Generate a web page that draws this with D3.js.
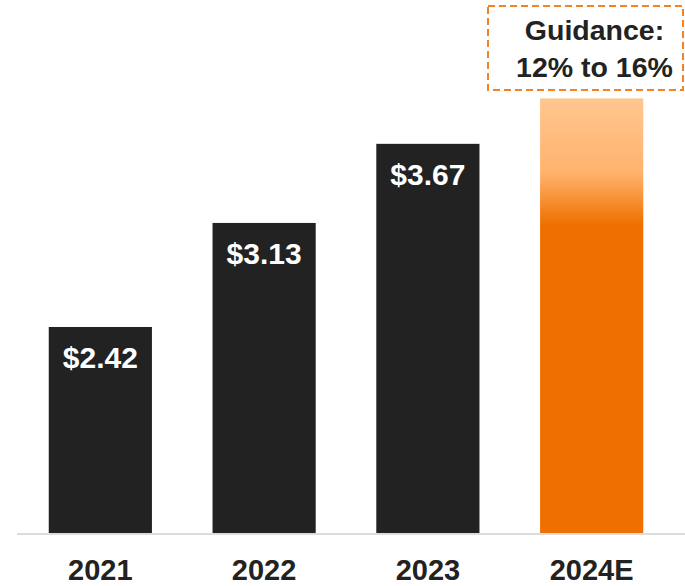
<!DOCTYPE html>
<html>
<head>
<meta charset="utf-8">
<script src="https://cdn.jsdelivr.net/npm/d3@7"></script>
<style>
  html, body { margin: 0; padding: 0; background: #fff; }
  svg { display: block; font-family: "Liberation Sans", Arial, sans-serif; }
</style>
</head>
<body>
<svg id="chart" width="685" height="586"></svg>
<script>
const categories = ["2021", "2022", "2023", "2024E"];
const values = [2.42, 3.13, 3.67, 3.98];   // 2024E bar height
const valueLabels = ["$2.42", "$3.13", "$3.67", null];
const guidanceLines = ["Guidance:", "12% to 16%"];

const svg = d3.select("#chart");
const W = 685, H = 586;
const baseY = 533;

const x = d3.scaleBand().domain(categories).range([16, 676]).paddingInner(0.37).paddingOuter(0.2);
const y = d3.scaleLinear().domain([1.014, 3.976]).range([baseY, 99]);

const defs = svg.append("defs");
const grad = defs.append("linearGradient").attr("id", "og")
  .attr("x1", 0).attr("y1", 0).attr("x2", 0).attr("y2", 1);
[[0, "#FFC690"], [0.17, "#FFB36E"], [0.23, "#F89236"], [0.29, "#EF7000"], [1, "#EF7000"]]
  .forEach(([o, c]) => grad.append("stop").attr("offset", o).attr("stop-color", c));

svg.append("line")
  .attr("x1", 17).attr("x2", W).attr("y1", baseY + 1).attr("y2", baseY + 1)
  .attr("stroke", "#dcdcdc").attr("stroke-width", 2);

const data = categories.map((c, i) => ({ c, v: values[i], lab: valueLabels[i], i }));

svg.selectAll("rect.bar").data(data).enter().append("rect")
  .attr("class", "bar")
  .attr("x", d => x(d.c))
  .attr("width", x.bandwidth())
  .attr("y", d => y(d.v))
  .attr("height", d => baseY - y(d.v))
  .attr("fill", d => d.i === 3 ? "url(#og)" : "#222222");

svg.selectAll("text.val").data(data.filter(d => d.lab)).enter().append("text")
  .attr("class", "val")
  .attr("x", d => x(d.c) + x.bandwidth() / 2)
  .attr("y", d => y(d.v) + 41)
  .attr("text-anchor", "middle")
  .attr("fill", "#ffffff")
  .attr("font-weight", "bold")
  .attr("font-size", 30)
  .text(d => d.lab);

const xAxis = d3.axisBottom(x).tickSize(0).tickPadding(0);
const gx = svg.append("g").attr("transform", `translate(0,${baseY})`).call(xAxis);
gx.select(".domain").remove();
gx.selectAll("text")
  .attr("dy", null)
  .attr("y", 47)
  .attr("fill", "#222222")
  .attr("font-size", 29)
  .attr("font-weight", "bold")
  .attr("font-family", "'Liberation Sans', Arial, sans-serif");

// guidance box
svg.append("rect")
  .attr("x", 488).attr("y", 6).attr("width", 195).attr("height", 84)
  .attr("fill", "none").attr("stroke", "#F28322").attr("stroke-width", 2)
  .attr("stroke-dasharray", "7,4");

svg.selectAll("text.g").data(guidanceLines).enter().append("text")
  .attr("class", "g")
  .attr("x", 594.5)
  .attr("y", (d, i) => 40 + i * 37)
  .attr("text-anchor", "middle")
  .attr("fill", "#222222")
  .attr("font-weight", "bold")
  .attr("font-size", 28.5)
  .text(d => d);
</script>
</body>
</html>
